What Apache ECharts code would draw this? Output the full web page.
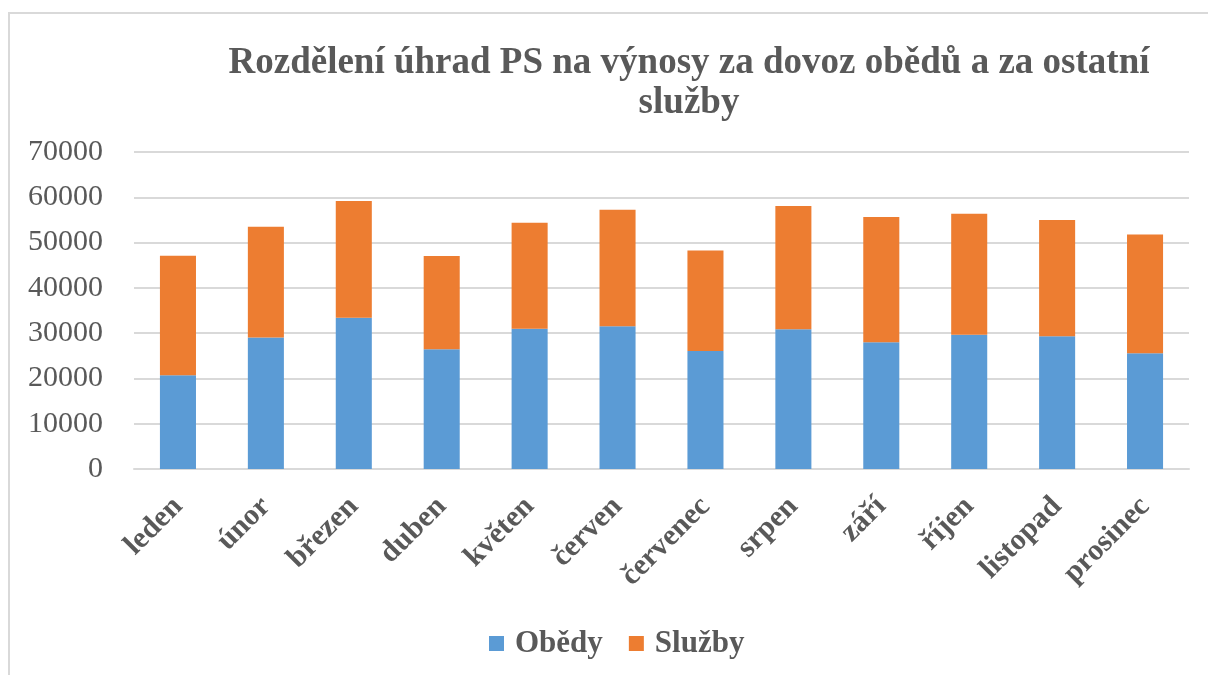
<!DOCTYPE html>
<html>
<head>
<meta charset="utf-8">
<script src="https://cdn.jsdelivr.net/npm/echarts@6/dist/echarts.min.js"></script>
<style>
    html, body { margin: 0; padding: 0; background: #fff; }
    .frame {
        position: absolute; left: 8px; top: 12px;
        width: 1300px; height: 800px;
        border: 2px solid #d9d9d9;
    }
    #chart { position: absolute; left: 0; top: 0; width: 1208px; height: 675px; }
</style>
</head>
<body>
<div class="frame"></div>
<div id="chart"></div>
<script>
    const months = ['leden', 'únor', 'březen', 'duben', 'květen', 'červen',
        'červenec', 'srpen', 'září', 'říjen', 'listopad', 'prosinec'];
    const obedy = [20710, 29020, 33380, 26460, 30950, 31540, 26080, 30880, 28010, 29620, 29330, 25580];
    const sluzby = [26370, 24470, 25790, 20550, 23430, 25710, 22170, 27190, 27630, 26750, 25640, 26210];
    const yTicks = [0, 10000, 20000, 30000, 40000, 50000, 60000, 70000];

    const serif = '"Liberation Serif", "Times New Roman", serif';
    const grey = '#595959';

    let option = {
        animation: false,
        color: ['#5B9BD5', '#ED7D31'],
        title: {
            text: 'Rozdělení úhrad PS na výnosy za dovoz obědů a za ostatní\nslužby',
            left: 684,
            top: 38,
            textAlign: 'center',
            textStyle: {
                fontFamily: serif,
                fontWeight: 'bold',
                fontSize: 37,
                lineHeight: 40,
                color: grey
            }
        },
        legend: {
            data: ['Obědy', 'Služby'],
            left: 484,
            top: 623,
            icon: 'rect',
            itemWidth: 15,
            itemHeight: 15,
            itemGap: 26,
            textStyle: {
                fontFamily: serif,
                fontWeight: 'bold',
                fontSize: 31,
                color: grey,
                padding: [0, 0, 0, 6]
            }
        },
        grid: {
            left: 134,
            right: 19,
            top: 152,
            bottom: 206
        },
        xAxis: {
            type: 'category',
            data: months,
            axisLine: { lineStyle: { color: '#d9d9d9', width: 2 } },
            axisTick: { show: false },
            axisLabel: {
                rotate: 45,
                margin: 33,
                fontFamily: serif,
                fontWeight: 'bold',
                fontSize: 30,
                color: grey
            }
        },
        yAxis: {
            type: 'value',
            min: yTicks[0],
            max: yTicks[yTicks.length - 1],
            interval: yTicks[1] - yTicks[0],
            axisLine: { show: false },
            axisTick: { show: false },
            splitLine: { lineStyle: { color: '#d9d9d9', width: 2 } },
            axisLabel: {
                margin: 31,
                fontFamily: serif,
                fontSize: 30,
                color: grey,
                formatter: v => String(v)
            }
        },
        series: [
            {
                name: 'Obědy',
                type: 'bar',
                stack: 'celkem',
                barWidth: '41%',
                data: obedy
            },
            {
                name: 'Služby',
                type: 'bar',
                stack: 'celkem',
                barWidth: '41%',
                data: sluzby
            }
        ]
    };

    let chart = echarts.init(document.getElementById('chart'));
    chart.setOption(option);
</script>
</body>
</html>
